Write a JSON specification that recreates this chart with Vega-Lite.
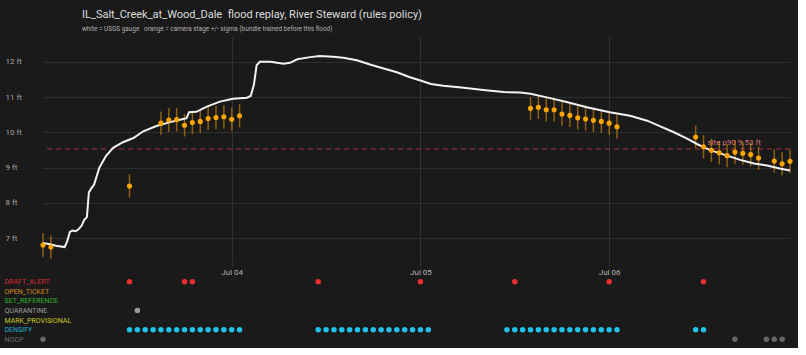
{
  "$schema": "https://vega.github.io/schema/vega-lite/v6.json",
  "background": "#1a1a1a",
  "padding": {"left": 4, "top": 8, "right": 4, "bottom": 4},
  "title": {
    "text": "IL_Salt_Creek_at_Wood_Dale\u00a0 flood replay, River Steward (rules policy)",
    "subtitle": "white = USGS gauge\u00a0\u00a0 orange = camera stage +/- sigma (bundle trained before this flood)",
    "anchor": "start",
    "frame": "group",
    "color": "#dddddd",
    "subtitleColor": "#b0b0b0",
    "fontSize": 11,
    "fontWeight": "normal",
    "subtitleFontSize": 6.4,
    "subtitlePadding": 6,
    "offset": 5,
    "dx": 39
  },
  "datasets": {
    "gauge": [
      {"t": "2024-07-03T00:00:00Z", "ft": 6.87},
      {"t": "2024-07-03T00:50:00Z", "ft": 6.83},
      {"t": "2024-07-03T01:40:00Z", "ft": 6.79},
      {"t": "2024-07-03T02:45:00Z", "ft": 6.75},
      {"t": "2024-07-03T03:05:00Z", "ft": 6.92},
      {"t": "2024-07-03T03:25:00Z", "ft": 7.18},
      {"t": "2024-07-03T03:45:00Z", "ft": 7.22},
      {"t": "2024-07-03T04:10:00Z", "ft": 7.2},
      {"t": "2024-07-03T04:35:00Z", "ft": 7.27},
      {"t": "2024-07-03T04:55:00Z", "ft": 7.36},
      {"t": "2024-07-03T05:15:00Z", "ft": 7.52},
      {"t": "2024-07-03T05:35:00Z", "ft": 7.6},
      {"t": "2024-07-03T05:50:00Z", "ft": 8.3},
      {"t": "2024-07-03T06:10:00Z", "ft": 8.42},
      {"t": "2024-07-03T06:30:00Z", "ft": 8.52},
      {"t": "2024-07-03T07:10:00Z", "ft": 9.0},
      {"t": "2024-07-03T08:00:00Z", "ft": 9.33},
      {"t": "2024-07-03T08:55:00Z", "ft": 9.56},
      {"t": "2024-07-03T10:10:00Z", "ft": 9.72},
      {"t": "2024-07-03T11:30:00Z", "ft": 9.84},
      {"t": "2024-07-03T12:45:00Z", "ft": 10.03},
      {"t": "2024-07-03T14:25:00Z", "ft": 10.18},
      {"t": "2024-07-03T16:10:00Z", "ft": 10.29},
      {"t": "2024-07-03T17:50:00Z", "ft": 10.38},
      {"t": "2024-07-03T18:15:00Z", "ft": 10.4},
      {"t": "2024-07-03T18:35:00Z", "ft": 10.57},
      {"t": "2024-07-03T19:30:00Z", "ft": 10.58},
      {"t": "2024-07-03T20:50:00Z", "ft": 10.73},
      {"t": "2024-07-03T22:30:00Z", "ft": 10.87},
      {"t": "2024-07-04T00:10:00Z", "ft": 10.95},
      {"t": "2024-07-04T01:55:00Z", "ft": 10.98},
      {"t": "2024-07-04T02:25:00Z", "ft": 11.03},
      {"t": "2024-07-04T02:50:00Z", "ft": 11.36},
      {"t": "2024-07-04T03:10:00Z", "ft": 11.9},
      {"t": "2024-07-04T03:35:00Z", "ft": 12.0},
      {"t": "2024-07-04T04:55:00Z", "ft": 12.0},
      {"t": "2024-07-04T06:35:00Z", "ft": 11.94},
      {"t": "2024-07-04T07:25:00Z", "ft": 11.97},
      {"t": "2024-07-04T08:20:00Z", "ft": 12.07},
      {"t": "2024-07-04T10:00:00Z", "ft": 12.13},
      {"t": "2024-07-04T11:10:00Z", "ft": 12.16},
      {"t": "2024-07-04T12:55:00Z", "ft": 12.14},
      {"t": "2024-07-04T14:10:00Z", "ft": 12.11},
      {"t": "2024-07-04T15:55:00Z", "ft": 12.04},
      {"t": "2024-07-04T17:35:00Z", "ft": 11.92},
      {"t": "2024-07-04T19:20:00Z", "ft": 11.81},
      {"t": "2024-07-04T21:00:00Z", "ft": 11.7},
      {"t": "2024-07-04T22:40:00Z", "ft": 11.56},
      {"t": "2024-07-05T00:00:00Z", "ft": 11.47},
      {"t": "2024-07-05T01:20:00Z", "ft": 11.37},
      {"t": "2024-07-05T02:55:00Z", "ft": 11.32},
      {"t": "2024-07-05T05:30:00Z", "ft": 11.26},
      {"t": "2024-07-05T08:00:00Z", "ft": 11.2},
      {"t": "2024-07-05T10:35:00Z", "ft": 11.14},
      {"t": "2024-07-05T12:40:00Z", "ft": 11.13},
      {"t": "2024-07-05T14:00:00Z", "ft": 11.09},
      {"t": "2024-07-05T16:05:00Z", "ft": 10.99},
      {"t": "2024-07-05T18:35:00Z", "ft": 10.86},
      {"t": "2024-07-05T21:10:00Z", "ft": 10.71},
      {"t": "2024-07-06T00:05:00Z", "ft": 10.57},
      {"t": "2024-07-06T02:40:00Z", "ft": 10.47},
      {"t": "2024-07-06T04:50:00Z", "ft": 10.33},
      {"t": "2024-07-06T06:30:00Z", "ft": 10.17},
      {"t": "2024-07-06T08:10:00Z", "ft": 10.01},
      {"t": "2024-07-06T09:55:00Z", "ft": 9.82},
      {"t": "2024-07-06T11:10:00Z", "ft": 9.67},
      {"t": "2024-07-06T12:10:00Z", "ft": 9.56},
      {"t": "2024-07-06T13:20:00Z", "ft": 9.46},
      {"t": "2024-07-06T15:00:00Z", "ft": 9.34},
      {"t": "2024-07-06T16:40:00Z", "ft": 9.22},
      {"t": "2024-07-06T18:25:00Z", "ft": 9.12},
      {"t": "2024-07-06T20:05:00Z", "ft": 9.06},
      {"t": "2024-07-06T21:50:00Z", "ft": 8.97},
      {"t": "2024-07-06T23:00:00Z", "ft": 8.92}
    ],
    "camera": [
      {"t": "2024-07-03T00:00:00Z", "stage": 6.81, "sigma": 0.33},
      {"t": "2024-07-03T01:00:00Z", "stage": 6.75, "sigma": 0.33},
      {"t": "2024-07-03T11:00:00Z", "stage": 8.48, "sigma": 0.33},
      {"t": "2024-07-03T15:00:00Z", "stage": 10.26, "sigma": 0.33},
      {"t": "2024-07-03T16:00:00Z", "stage": 10.35, "sigma": 0.33},
      {"t": "2024-07-03T17:00:00Z", "stage": 10.36, "sigma": 0.33},
      {"t": "2024-07-03T18:00:00Z", "stage": 10.2, "sigma": 0.32},
      {"t": "2024-07-03T19:00:00Z", "stage": 10.28, "sigma": 0.33},
      {"t": "2024-07-03T20:00:00Z", "stage": 10.31, "sigma": 0.33},
      {"t": "2024-07-03T21:00:00Z", "stage": 10.39, "sigma": 0.33},
      {"t": "2024-07-03T22:00:00Z", "stage": 10.42, "sigma": 0.33},
      {"t": "2024-07-03T23:00:00Z", "stage": 10.44, "sigma": 0.33},
      {"t": "2024-07-04T00:00:00Z", "stage": 10.37, "sigma": 0.33},
      {"t": "2024-07-04T01:00:00Z", "stage": 10.47, "sigma": 0.33},
      {"t": "2024-07-05T14:00:00Z", "stage": 10.68, "sigma": 0.32},
      {"t": "2024-07-05T15:00:00Z", "stage": 10.71, "sigma": 0.33},
      {"t": "2024-07-05T16:00:00Z", "stage": 10.64, "sigma": 0.33},
      {"t": "2024-07-05T17:00:00Z", "stage": 10.64, "sigma": 0.33},
      {"t": "2024-07-05T18:00:00Z", "stage": 10.52, "sigma": 0.33},
      {"t": "2024-07-05T19:00:00Z", "stage": 10.48, "sigma": 0.33},
      {"t": "2024-07-05T20:00:00Z", "stage": 10.41, "sigma": 0.33},
      {"t": "2024-07-05T21:00:00Z", "stage": 10.38, "sigma": 0.33},
      {"t": "2024-07-05T22:00:00Z", "stage": 10.34, "sigma": 0.33},
      {"t": "2024-07-05T23:00:00Z", "stage": 10.31, "sigma": 0.33},
      {"t": "2024-07-06T00:00:00Z", "stage": 10.26, "sigma": 0.33},
      {"t": "2024-07-06T01:00:00Z", "stage": 10.16, "sigma": 0.34},
      {"t": "2024-07-06T11:00:00Z", "stage": 9.87, "sigma": 0.32},
      {"t": "2024-07-06T12:00:00Z", "stage": 9.59, "sigma": 0.33},
      {"t": "2024-07-06T13:00:00Z", "stage": 9.49, "sigma": 0.33},
      {"t": "2024-07-06T14:00:00Z", "stage": 9.42, "sigma": 0.33},
      {"t": "2024-07-06T15:00:00Z", "stage": 9.34, "sigma": 0.33},
      {"t": "2024-07-06T16:00:00Z", "stage": 9.44, "sigma": 0.33},
      {"t": "2024-07-06T17:00:00Z", "stage": 9.41, "sigma": 0.33},
      {"t": "2024-07-06T18:00:00Z", "stage": 9.37, "sigma": 0.33},
      {"t": "2024-07-06T19:00:00Z", "stage": 9.27, "sigma": 0.33},
      {"t": "2024-07-06T21:00:00Z", "stage": 9.19, "sigma": 0.33},
      {"t": "2024-07-06T22:00:00Z", "stage": 9.11, "sigma": 0.33},
      {"t": "2024-07-06T23:00:00Z", "stage": 9.18, "sigma": 0.33}
    ],
    "threshold": [
      {"ft": 9.53, "label": "site p90 9.53 ft", "t": "2024-07-06T12:30:00Z"}
    ],
    "actions": [
      {"t": "2024-07-03T00:00:00Z", "action": "NOOP"},
      {"t": "2024-07-03T11:00:00Z", "action": "DRAFT_ALERT"},
      {"t": "2024-07-03T12:00:00Z", "action": "QUARANTINE"},
      {"t": "2024-07-03T18:00:00Z", "action": "DRAFT_ALERT"},
      {"t": "2024-07-03T19:00:00Z", "action": "DRAFT_ALERT"},
      {"t": "2024-07-04T11:00:00Z", "action": "DRAFT_ALERT"},
      {"t": "2024-07-05T00:00:00Z", "action": "DRAFT_ALERT"},
      {"t": "2024-07-05T12:00:00Z", "action": "DRAFT_ALERT"},
      {"t": "2024-07-06T00:00:00Z", "action": "DRAFT_ALERT"},
      {"t": "2024-07-06T12:00:00Z", "action": "DRAFT_ALERT"},
      {"t": "2024-07-03T11:00:00Z", "action": "DENSIFY"},
      {"t": "2024-07-03T12:00:00Z", "action": "DENSIFY"},
      {"t": "2024-07-03T13:00:00Z", "action": "DENSIFY"},
      {"t": "2024-07-03T14:00:00Z", "action": "DENSIFY"},
      {"t": "2024-07-03T15:00:00Z", "action": "DENSIFY"},
      {"t": "2024-07-03T16:00:00Z", "action": "DENSIFY"},
      {"t": "2024-07-03T17:00:00Z", "action": "DENSIFY"},
      {"t": "2024-07-03T18:00:00Z", "action": "DENSIFY"},
      {"t": "2024-07-03T19:00:00Z", "action": "DENSIFY"},
      {"t": "2024-07-03T20:00:00Z", "action": "DENSIFY"},
      {"t": "2024-07-03T21:00:00Z", "action": "DENSIFY"},
      {"t": "2024-07-03T22:00:00Z", "action": "DENSIFY"},
      {"t": "2024-07-03T23:00:00Z", "action": "DENSIFY"},
      {"t": "2024-07-04T00:00:00Z", "action": "DENSIFY"},
      {"t": "2024-07-04T01:00:00Z", "action": "DENSIFY"},
      {"t": "2024-07-04T11:00:00Z", "action": "DENSIFY"},
      {"t": "2024-07-04T12:00:00Z", "action": "DENSIFY"},
      {"t": "2024-07-04T13:00:00Z", "action": "DENSIFY"},
      {"t": "2024-07-04T14:00:00Z", "action": "DENSIFY"},
      {"t": "2024-07-04T15:00:00Z", "action": "DENSIFY"},
      {"t": "2024-07-04T16:00:00Z", "action": "DENSIFY"},
      {"t": "2024-07-04T17:00:00Z", "action": "DENSIFY"},
      {"t": "2024-07-04T18:00:00Z", "action": "DENSIFY"},
      {"t": "2024-07-04T19:00:00Z", "action": "DENSIFY"},
      {"t": "2024-07-04T20:00:00Z", "action": "DENSIFY"},
      {"t": "2024-07-04T21:00:00Z", "action": "DENSIFY"},
      {"t": "2024-07-04T22:00:00Z", "action": "DENSIFY"},
      {"t": "2024-07-04T23:00:00Z", "action": "DENSIFY"},
      {"t": "2024-07-05T00:00:00Z", "action": "DENSIFY"},
      {"t": "2024-07-05T01:00:00Z", "action": "DENSIFY"},
      {"t": "2024-07-05T11:00:00Z", "action": "DENSIFY"},
      {"t": "2024-07-05T12:00:00Z", "action": "DENSIFY"},
      {"t": "2024-07-05T13:00:00Z", "action": "DENSIFY"},
      {"t": "2024-07-05T14:00:00Z", "action": "DENSIFY"},
      {"t": "2024-07-05T15:00:00Z", "action": "DENSIFY"},
      {"t": "2024-07-05T16:00:00Z", "action": "DENSIFY"},
      {"t": "2024-07-05T17:00:00Z", "action": "DENSIFY"},
      {"t": "2024-07-05T18:00:00Z", "action": "DENSIFY"},
      {"t": "2024-07-05T19:00:00Z", "action": "DENSIFY"},
      {"t": "2024-07-05T20:00:00Z", "action": "DENSIFY"},
      {"t": "2024-07-05T21:00:00Z", "action": "DENSIFY"},
      {"t": "2024-07-05T22:00:00Z", "action": "DENSIFY"},
      {"t": "2024-07-05T23:00:00Z", "action": "DENSIFY"},
      {"t": "2024-07-06T00:00:00Z", "action": "DENSIFY"},
      {"t": "2024-07-06T01:00:00Z", "action": "DENSIFY"},
      {"t": "2024-07-06T11:00:00Z", "action": "DENSIFY"},
      {"t": "2024-07-06T12:00:00Z", "action": "DENSIFY"},
      {"t": "2024-07-06T16:00:00Z", "action": "NOOP"},
      {"t": "2024-07-06T20:00:00Z", "action": "NOOP"},
      {"t": "2024-07-06T21:00:00Z", "action": "NOOP"},
      {"t": "2024-07-06T22:00:00Z", "action": "NOOP"}
    ]
  },
  "spacing": 1,
  "vconcat": [
    {
      "width": 747,
      "height": 226,
      "layer": [
        {
          "data": {"name": "threshold"},
          "mark": {"type": "rule", "stroke": "#a8333a", "strokeWidth": 1, "strokeDash": [5, 4]},
          "encoding": {
            "y": {"field": "ft", "type": "quantitative"}
          }
        },
        {
          "data": {"name": "threshold"},
          "mark": {"type": "text", "align": "left", "baseline": "bottom", "dy": -2, "fontSize": 8, "color": "#d9777a"},
          "encoding": {
            "x": {"field": "t", "type": "temporal"},
            "y": {"field": "ft", "type": "quantitative"},
            "text": {"field": "label"}
          }
        },
        {
          "data": {"name": "camera"},
          "mark": {"type": "errorbar", "ticks": false, "rule": {"stroke": "#ffa500", "strokeOpacity": 0.5, "strokeWidth": 1.5}},
          "encoding": {
            "x": {"field": "t", "type": "temporal"},
            "y": {"field": "stage", "type": "quantitative"},
            "yError": {"field": "sigma"}
          }
        },
        {
          "data": {"name": "gauge"},
          "mark": {"type": "line", "stroke": "#f2f2f2", "strokeWidth": 2, "interpolate": "linear"},
          "encoding": {
            "x": {"field": "t", "type": "temporal"},
            "y": {"field": "ft", "type": "quantitative"}
          }
        },
        {
          "data": {"name": "camera"},
          "mark": {"type": "point", "filled": true, "opacity": 1, "size": 26, "color": "#ffa500"},
          "encoding": {
            "x": {
              "field": "t",
              "type": "temporal",
              "scale": {
                "type": "utc",
                "domain": [
                  {"year": 2024, "month": "jul", "date": 3, "hours": 0, "utc": true},
                  {"year": 2024, "month": "jul", "date": 6, "hours": 23, "utc": true}
                ]
              },
              "axis": {
                "title": null,
                "values": [
                  {"year": 2024, "month": "jul", "date": 4, "utc": true},
                  {"year": 2024, "month": "jul", "date": 5, "utc": true},
                  {"year": 2024, "month": "jul", "date": 6, "utc": true}
                ],
                "format": "%b %d",
                "grid": true,
                "gridColor": "#333333",
                "domain": false,
                "ticks": true,
                "tickColor": "#333333",
                "tickSize": 3,
                "labelPadding": 2,
                "labelFontSize": 8,
                "labelColor": "#b4b4b4"
              }
            },
            "y": {
              "field": "stage",
              "type": "quantitative",
              "scale": {"domain": [6.3, 12.7], "nice": false, "zero": false},
              "axis": {
                "title": null,
                "values": [7, 8, 9, 10, 11, 12],
                "labelExpr": "datum.value + ' ft'",
                "grid": true,
                "gridColor": "#2e2e2e",
                "domain": false,
                "ticks": false,
                "labelAlign": "left",
                "labelPadding": 38,
                "labelFontSize": 8,
                "labelColor": "#a6a6a6"
              }
            }
          }
        }
      ]
    },
    {
      "width": 747,
      "height": 67,
      "data": {"name": "actions"},
      "mark": {"type": "point", "filled": true, "opacity": 1, "size": 30},
      "encoding": {
        "x": {
          "field": "t",
          "type": "temporal",
          "scale": {
            "type": "utc",
            "domain": [
              {"year": 2024, "month": "jul", "date": 3, "hours": 0, "utc": true},
              {"year": 2024, "month": "jul", "date": 6, "hours": 23, "utc": true}
            ]
          },
          "axis": null
        },
        "y": {
          "field": "action",
          "type": "nominal",
          "scale": {
            "domain": ["DRAFT_ALERT", "OPEN_TICKET", "SET_REFERENCE", "QUARANTINE", "MARK_PROVISIONAL", "DENSIFY", "NOOP"]
          },
          "axis": {
            "title": null,
            "domain": false,
            "ticks": false,
            "grid": false,
            "labelAlign": "left",
            "labelPadding": 39,
            "labelFontSize": 7,
            "labelColor": {"expr": "datum.value == 'DRAFT_ALERT' ? '#d42c2c' : datum.value == 'OPEN_TICKET' ? '#d8861c' : datum.value == 'SET_REFERENCE' ? '#2fb42f' : datum.value == 'QUARANTINE' ? '#9c9c9c' : datum.value == 'MARK_PROVISIONAL' ? '#c9c91f' : datum.value == 'DENSIFY' ? '#20a9d2' : '#6a6a6a'"}
          }
        },
        "color": {
          "field": "action",
          "type": "nominal",
          "legend": null,
          "scale": {
            "domain": ["DRAFT_ALERT", "OPEN_TICKET", "SET_REFERENCE", "QUARANTINE", "MARK_PROVISIONAL", "DENSIFY", "NOOP"],
            "range": ["#e8302f", "#e8901c", "#33c033", "#9a9a9a", "#d8d820", "#22c3e6", "#666666"]
          }
        }
      }
    }
  ],
  "config": {
    "font": "Roboto, sans-serif",
    "view": {"stroke": null}
  }
}
